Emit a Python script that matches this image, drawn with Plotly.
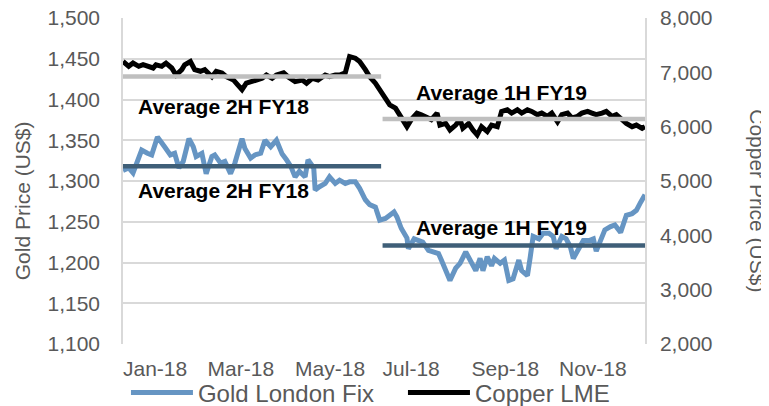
import pandas as pd
import plotly.graph_objects as go

# day of 2018 (0 = 1 Jan) and prices
gold_day = [0, 4, 7, 10, 13, 17, 20, 24, 26, 29,
            33, 36, 39, 42, 46, 49, 51, 55, 58, 62,
            64, 68, 71, 75, 78, 83, 85, 89, 92, 96,
            99, 103, 107, 111, 114, 117, 120, 123, 127, 129,
            133, 134, 137, 141, 144, 148, 151, 155, 158, 162,
            165, 169, 172, 176, 179, 183, 186, 189, 191, 194,
            198, 199, 203, 206, 209, 213, 216, 220, 222, 226,
            228, 232, 235, 239, 242, 246, 249, 251, 254, 257,
            259, 263, 266, 269, 272, 276, 278, 282, 284, 286,
            290, 293, 297, 300, 302, 306, 309, 312, 314, 318,
            321, 325, 328, 330, 334, 336, 340, 343, 347, 349,
            351, 355, 358, 361, 364]
gold_price = [1313, 1316, 1310, 1324, 1338, 1334, 1332, 1354, 1348, 1342,
              1332, 1334, 1316, 1324, 1352, 1342, 1330, 1334, 1309, 1330,
              1332, 1322, 1324, 1309, 1322, 1352, 1340, 1328, 1332, 1334,
              1350, 1342, 1350, 1333, 1326, 1318, 1305, 1312, 1305, 1326,
              1316, 1289, 1293, 1297, 1305, 1297, 1301, 1297, 1299, 1299,
              1291, 1277, 1271, 1268, 1252, 1254, 1258, 1262, 1256, 1242,
              1230, 1217, 1229, 1227, 1225, 1215, 1213, 1211, 1203, 1184,
              1178, 1193, 1199, 1213, 1203, 1190, 1205, 1190, 1207, 1196,
              1205, 1199, 1203, 1178, 1180, 1203, 1190, 1184, 1207, 1232,
              1229, 1236, 1236, 1232, 1217, 1232, 1229, 1219, 1205, 1219,
              1227, 1227, 1229, 1214, 1230, 1240, 1244, 1246, 1237, 1248,
              1258, 1260, 1264, 1274, 1283]

copper_day = [0, 4, 7, 11, 14, 18, 21, 23, 27, 30,
              34, 37, 41, 43, 47, 50, 54, 57, 62, 65,
              69, 72, 77, 80, 83, 86, 90, 93, 97, 100,
              104, 107, 112, 115, 120, 125, 128, 132, 136, 141,
              144, 148, 151, 155, 158, 162, 165, 169, 172, 176,
              179, 183, 186, 190, 192, 195, 198, 201, 205, 208,
              212, 215, 219, 221, 225, 228, 232, 235, 237, 241,
              244, 247, 250, 254, 257, 261, 264, 268, 271, 275,
              278, 282, 285, 289, 292, 296, 299, 303, 306, 310,
              313, 317, 320, 324, 327, 330, 334, 337, 341, 344,
              348, 351, 355, 358, 362, 364]
copper_price = [7200, 7110, 7170, 7110, 7140, 7110, 7080, 7140, 7110, 7170,
                7080, 6950, 7050, 7140, 7200, 7050, 7020, 7050, 6920, 7020,
                6990, 6920, 6860, 6770, 6680, 6800, 6830, 6860, 6890, 6950,
                6890, 6950, 6990, 6920, 6830, 6860, 6800, 6890, 6860, 6950,
                6920, 6950, 6950, 6990, 7290, 7260, 7200, 7050, 6920, 6800,
                6680, 6550, 6400, 6340, 6250, 6160, 6000, 6130, 6250, 6220,
                6160, 6130, 6250, 6030, 6060, 5940, 6030, 6130, 5970, 6060,
                5940, 5850, 6000, 5910, 6030, 6000, 6280, 6310, 6250, 6310,
                6250, 6310, 6280, 6220, 6250, 6190, 6250, 6090, 6220, 6250,
                6160, 6190, 6250, 6280, 6250, 6220, 6250, 6280, 6190, 6220,
                6130, 6060, 6000, 6030, 5970, 6000]

# half-year averages
half_start = ["2018-01-01", "2018-07-01"]
half_end = ["2018-06-30", "2018-12-31"]
half_label = ["Average 2H FY18", "Average 1H FY19"]
gold_avg = [1318, 1221]
copper_avg = [6925, 6143]

tick_dates = ["2018-01-01", "2018-03-01", "2018-05-01", "2018-07-01", "2018-09-01", "2018-11-01"]
tick_text = ["Jan-18", "Mar-18", "May-18", "Jul-18", "Sep-18", "Nov-18"]

base = pd.Timestamp("2018-01-01")
gold_x = base + pd.to_timedelta(gold_day, unit="D")
copper_x = base + pd.to_timedelta(copper_day, unit="D")

FONT = "Liberation Sans, Arial, sans-serif"
GREY_TXT = "#595959"
GOLD = "#6695c3"
GOLD_AVG = "#3f5f78"
COPPER = "#000000"
COPPER_AVG = "#bfbfbf"

fig = go.Figure()

fig.add_trace(go.Scatter(x=gold_x, y=gold_price, mode="lines", name="Gold London Fix",
                         line=dict(color=GOLD, width=5), legend="legend"))
fig.add_trace(go.Scatter(x=copper_x, y=copper_price, mode="lines", name="Copper LME",
                         yaxis="y2", line=dict(color=COPPER, width=5), legend="legend2"))

for i in range(2):
    fig.add_trace(go.Scatter(x=[half_start[i], half_end[i]], y=[gold_avg[i]] * 2,
                             mode="lines", showlegend=False,
                             line=dict(color=GOLD_AVG, width=4.5)))
    fig.add_trace(go.Scatter(x=[half_start[i], half_end[i]], y=[copper_avg[i]] * 2,
                             mode="lines", showlegend=False, yaxis="y2",
                             line=dict(color=COPPER_AVG, width=4.5)))

# label positions (left edge day, gold-axis height)
label_day = [9, 203]
copper_label_y = [1391, 1408]
gold_label_y = [1288, 1243]
for i in range(2):
    for ly in (copper_label_y[i], gold_label_y[i]):
        fig.add_annotation(x=base + pd.Timedelta(days=label_day[i]), y=ly,
                           xref="x", yref="y", xanchor="left", yanchor="middle",
                           text="<b>" + half_label[i] + "</b>", showarrow=False,
                           font=dict(family=FONT, size=21, color="#000000"))

fig.add_annotation(x=-0.1935, y=0.441, xref="paper", yref="paper", text="Gold Price (US$)",
                   xanchor="center", yanchor="middle", textangle=-90, showarrow=False,
                   font=dict(family=FONT, size=21, color=GREY_TXT))
fig.add_annotation(x=1.2165, y=0.441, xref="paper", yref="paper", text="Copper Price (US$)",
                   xanchor="center", yanchor="middle", textangle=90, showarrow=False,
                   font=dict(family=FONT, size=21, color=GREY_TXT))

legend_style = dict(orientation="h", xref="container", yref="container", y=0.033,
                    xanchor="left", yanchor="middle", itemwidth=62,
                    font=dict(size=24, color=GREY_TXT), bgcolor="rgba(0,0,0,0)")

fig.update_layout(
    width=761, height=398,
    margin=dict(l=115, r=124, t=10, b=62, autoexpand=False),
    plot_bgcolor="white", paper_bgcolor="white",
    font=dict(family=FONT, size=21, color=GREY_TXT),
    showlegend=True,
    legend=dict(x=0.155, **legend_style),
    legend2=dict(x=0.519, **legend_style),
    xaxis=dict(range=["2018-01-01", "2018-12-31"], tickmode="array",
               tickvals=tick_dates, ticktext=tick_text, ticklabelposition="outside right",
               showgrid=False, zeroline=False, showline=False, ticks="", automargin=False,
               ticklabelstandoff=10, ticklabeloverflow="allow"),
    yaxis=dict(range=[1100, 1500], dtick=50, tickformat=",", showgrid=True,
               gridcolor="#d9d9d9", gridwidth=1.5, zeroline=False,
               showline=True, linecolor="#d9d9d9", linewidth=1.5,
               ticklabelstandoff=17, automargin=False, ticklabeloverflow="allow"),
    yaxis2=dict(range=[2000, 8000], dtick=1000, tickformat=",", overlaying="y",
                side="right", showgrid=False, zeroline=False,
                showline=True, linecolor="#d9d9d9", linewidth=1.5,
                ticklabelstandoff=9, automargin=False, ticklabeloverflow="allow"),
)

fig.write_html("out.html")
